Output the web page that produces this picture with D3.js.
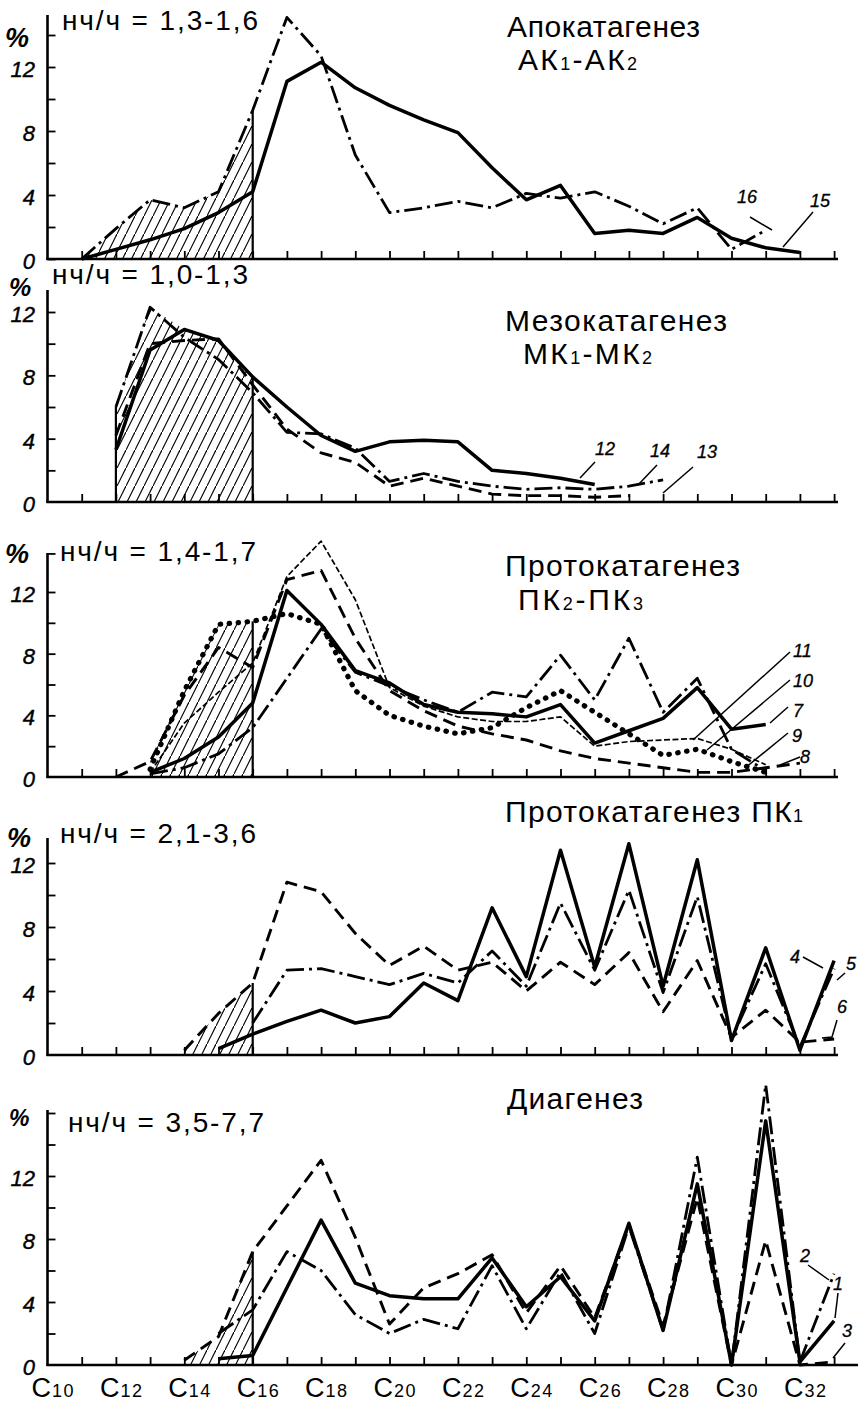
<!DOCTYPE html>
<html><head><meta charset="utf-8">
<script src="https://cdn.jsdelivr.net/npm/d3@7/dist/d3.min.js"></script>
<style>body{margin:0;background:#fff}svg{display:block}</style>
</head><body>
<svg id="c" width="858" height="1402"></svg>
<script>
// ---------------- DATA (carbon numbers C10..C33) ----------------
const carbons = d3.range(10, 34);
const N = null;
const xTickLabels = [10,12,14,16,18,20,22,24,26,28,30,32];
const yTickLabels = [0,4,8,12];

// Panel 1: Апокатагенез АК1-АК2
const p1_15 = [N,0.0,0.6,1.2,1.9,2.9,4.2,11.1,12.3,10.7,9.6,8.7,7.9,5.7,3.7,4.6,1.6,1.8,1.6,2.6,1.3,0.7,0.4,N];
const p1_16 = [N,0.0,1.9,3.7,3.2,4.2,9.3,15.1,12.7,6.5,2.9,3.2,3.6,3.2,4.1,3.8,4.2,3.3,2.2,3.2,0.6,1.8,N,N];

// Panel 2: Мезокатагенез МК1-МК2
const p2_12 = [N,N,3.3,9.6,10.9,10.2,7.9,6.0,4.2,3.2,3.8,3.9,3.8,2.0,1.8,1.5,1.1,N,N,N,N,N,N,N];
const p2_13 = [N,N,4.2,10.0,10.2,10.3,7.4,4.6,3.1,2.5,1.0,1.5,1.0,0.5,0.4,0.4,0.3,0.4,N,N,N,N,N,N];
const p2_14 = [N,N,6.0,12.3,10.4,9.0,6.9,4.4,4.3,3.4,1.3,1.8,1.3,1.0,0.8,0.9,0.8,1.0,1.4,N,N,N,N,N];

// Panel 3: Протокатагенез ПК2-ПК3
const p3_7  = [N,N,N,0.3,1.2,2.6,4.8,12.1,9.9,6.9,6.1,4.7,4.2,4.1,3.9,4.7,2.2,3.0,3.8,5.8,3.1,3.4,N,N];
const p3_8  = [N,N,0.0,1.0,5.3,8.4,7.1,12.8,13.4,9.0,5.6,4.3,3.3,2.8,2.4,1.7,1.2,0.9,0.6,0.3,0.3,0.6,0.9,N];
const p3_9  = [N,N,N,0.2,0.6,1.5,3.2,6.4,9.6,6.8,5.9,5.0,4.2,5.5,5.2,7.9,5.0,9.0,4.2,6.4,1.8,0.4,N,N];
const p3_10 = [N,N,N,0.5,5.6,9.9,10.1,10.6,9.9,5.6,4.0,3.3,2.8,3.2,4.5,5.6,4.2,2.8,1.4,1.8,1.0,0.3,N,N];
const p3_11 = [N,N,N,0.3,3.5,5.5,7.4,13.0,15.3,11.5,5.8,4.6,3.9,3.6,3.6,3.9,2.0,2.3,2.4,2.5,1.8,0.8,N,N];

// Panel 4: Протокатагенез ПК1
const p4_4 = [N,N,N,N,N,0.4,1.3,2.1,2.8,2.0,2.4,4.5,3.4,9.2,4.9,12.8,5.5,13.2,4.3,12.2,0.9,6.7,0.3,5.9];
const p4_5 = [N,N,N,N,N,N,2.0,5.3,5.4,4.9,4.4,5.1,4.5,6.5,4.3,9.5,5.3,10.3,3.9,9.9,1.0,5.7,0.5,5.4];
const p4_6 = [N,N,N,N,0.3,2.6,4.5,10.8,10.2,7.6,5.6,6.8,5.3,5.8,4.0,5.8,4.4,6.4,2.7,5.9,1.1,2.8,0.8,1.0];

// Panel 5: Диагенез
const p5_1 = [N,N,N,N,N,0.4,0.6,4.9,9.2,5.2,4.4,4.2,4.2,6.8,3.7,5.6,2.8,9.0,2.2,11.5,0.0,15.5,0.2,2.8];
const p5_2 = [N,N,N,N,N,2.0,3.5,7.2,6.0,3.2,2.0,2.9,2.3,6.3,2.3,5.9,2.0,8.8,2.2,13.2,0.0,17.8,0.2,5.8];
const p5_3 = [N,N,N,N,0.3,1.8,7.2,10.1,13.0,8.1,2.6,4.9,5.8,7.0,3.3,6.3,3.0,8.9,2.5,10.6,0.0,7.9,0.0,0.2];

// ---------------- STYLES & LAYOUT ----------------
const FONT = "'Liberation Sans', Arial, sans-serif";
const STY = {
  solid:   {w:3.5, dash:null},
  dashdot: {w:2.8, dash:"18,5,3,5"},
  dashed:  {w:2.9, dash:"13,7"},
  dotted:  {w:5.2, dash:"0.5,8.5", cap:"round"},
  wavy:    {w:1.7, dash:"6,2.5"}
};

const panels = [
  {r:[259,67], top:15, xEnd:838, yt:[0,2,4,6,8,10,12,14],
   series:[[p1_16,'dashdot'],[p1_15,'solid']], hatch:{from:11,to:16,src:[p1_16]}},
  {r:[502,312], top:290, xEnd:838, yt:[2,4,6,8,10,12],
   series:[[p2_13,'dashed'],[p2_14,'dashdot'],[p2_12,'solid']], hatch:{from:12,to:16,src:[p2_12,p2_13,p2_14],left:true}},
  {r:[777,592], top:553, xEnd:838, yt:[2,4,6,8,10,12,14.5],
   series:[[p3_8,'dashed'],[p3_9,'dashdot'],[p3_10,'dotted'],[p3_11,'wavy'],[p3_7,'solid']], hatch:{from:13,to:16,src:[p3_7,p3_8,p3_9,p3_10,p3_11]}},
  {r:[1055,863], top:838, xEnd:838, yt:[2,4,6,8,10,12],
   series:[[p4_6,'dashed'],[p4_5,'dashdot'],[p4_4,'solid']], hatch:{from:14,to:16,src:[p4_6]}},
  {r:[1365,1176], top:1110, xEnd:858, yt:[2,4,6,8,10,12,14,16],
   series:[[p5_3,'dashed'],[p5_2,'dashdot'],[p5_1,'solid']], hatch:{from:14,to:16,src:[p5_3]}}
];

const svg = d3.select('#c');
svg.append('rect').attr('width',858).attr('height',1402).attr('fill','#fff');
const defs = svg.append('defs');
const pat = defs.append('pattern').attr('id','hatch').attr('patternUnits','userSpaceOnUse')
  .attr('width',9).attr('height',18);
pat.append('line').attr('x1',-0.5).attr('y1',19).attr('x2',9.5).attr('y2',-1)
  .attr('stroke','#000').attr('stroke-width',1.2);

const x = d3.scaleLinear().domain([10,33]).range([47.5,834.1]);

function fit(t, w){
  const s = t.text(); const n = s.length;
  const L = t.node().getComputedTextLength();
  if(n>1) t.attr('letter-spacing', (w-L)/(n-1));
}

panels.forEach(p=>{
  const y = d3.scaleLinear().domain([0,12]).range(p.r);
  const g = svg.append('g');
  // hatched region
  const hd = carbons.filter(c=>c>=p.hatch.from && c<=p.hatch.to).map(c=>{
    const i = carbons.indexOf(c);
    const vals = p.hatch.src.map(s=>s[i]).filter(v=>v!=null);
    return {c, v: vals.length? d3.max(vals) : 0};
  });
  g.append('path').datum(hd)
    .attr('d', d3.area().x(d=>x(d.c)).y0(y(0)).y1(d=>y(d.v)))
    .attr('fill','url(#hatch)');
  const last = hd[hd.length-1];
  g.append('line').attr('x1',x(last.c)).attr('x2',x(last.c)).attr('y1',y(0)).attr('y2',y(last.v))
    .attr('stroke','#000').attr('stroke-width',2.2);
  if(p.hatch.left){
    const f = hd[0];
    g.append('line').attr('x1',x(f.c)).attr('x2',x(f.c)).attr('y1',y(0)).attr('y2',y(f.v))
      .attr('stroke','#000').attr('stroke-width',2.2);
  }
  // axes
  const ya = g.append('g').attr('transform',`translate(${x(10)},0)`)
    .call(d3.axisRight(y).tickValues(p.yt).tickSize(8).tickFormat(''));
  ya.select('.domain').remove();
  ya.selectAll('line').attr('stroke','#000').attr('stroke-width',1.8);
  g.append('line').attr('x1',x(10)).attr('x2',x(10)).attr('y1',y(0)+1).attr('y2',p.top)
    .attr('stroke','#000').attr('stroke-width',2.6);
  const xa = g.append('g').attr('transform',`translate(0,${y(0)})`)
    .call(d3.axisTop(x).tickValues(d3.range(11,34)).tickSize(8).tickSizeOuter(0).tickFormat(''));
  xa.select('.domain').remove();
  xa.selectAll('line').attr('stroke','#000').attr('stroke-width',1.8);
  g.append('line').attr('x1',x(10)-1).attr('x2',p.xEnd).attr('y1',y(0)).attr('y2',y(0))
    .attr('stroke','#000').attr('stroke-width',2.6);
  // y tick labels
  g.selectAll('text.yl').data(yTickLabels).join('text')
    .attr('x',35).attr('y',d=>y(d)+10).attr('text-anchor','end')
    .attr('font-family',FONT).attr('font-style','italic').attr('font-size',22)
    .attr('stroke','#000').attr('stroke-width',0.4)
    .text(d=>d);
  // series
  p.series.forEach(([vals,st])=>{
    const s = STY[st];
    const data = carbons.map((c,i)=>({c, v: vals[i]}));
    const line = d3.line().defined(d=>d.v!=null).x(d=>x(d.c)).y(d=>y(d.v));
    g.append('path').datum(data).attr('d',line)
      .attr('fill','none').attr('stroke','#000').attr('stroke-width',s.w)
      .attr('stroke-dasharray',s.dash).attr('stroke-linecap',s.cap||'butt')
      .attr('stroke-linejoin','round');
  });
});

// bottom x-axis labels
const yb = 1397;
xTickLabels.forEach(c=>{
  const t = svg.append('text').attr('x', x(c)-16).attr('y', yb)
    .attr('font-family',FONT).attr('font-size',27);
  t.append('tspan').text('C');
  t.append('tspan').attr('font-size',18).attr('letter-spacing',1.5).attr('dx',1).text(c);
});

// titles
function title(xp, ybase, parts, w){
  const t = svg.append('text').attr('x',xp).attr('y',ybase).attr('font-family',FONT).attr('font-size',30);
  parts.forEach(pp=>t.append('tspan').attr('font-size', pp[1]?18:30).text(pp[0]));
  fit(t, w);
}
title(507, 37, [['Апокатагенез']], 193);
title(518, 70, [['АК'],['1',1],['-АК'],['2',1]], 119);
title(505, 331, [['Мезокатагенез']], 222);
title(523, 364, [['МК'],['1',1],['-МК'],['2',1]], 129);
title(505, 576, [['Протокатагенез']], 235);
title(518, 610, [['ПК'],['2',1],['-ПК'],['3',1]], 125);
title(505, 822, [['Протокатагенез ПК'],['1',1]], 298);
title(507, 1109, [['Диагенез']], 136);

// нч/ч labels
const ratios = [['нч/ч = 1,3-1,6',62,30],['нч/ч = 1,0-1,3',52,284],['нч/ч = 1,4-1,7',60,561],
                ['нч/ч = 2,1-3,6',60,843],['нч/ч = 3,5-7,7',68,1132]];
ratios.forEach(([s,xp,ybase])=>{
  const t = svg.append('text').attr('x',xp).attr('y',ybase).attr('font-family',FONT).attr('font-size',28).text(s);
  fit(t,196);
});

// % signs
[[5,47,27],[9,296,25],[5,563,27],[7,847,27],[9,1126,23]].forEach(([xp,ybase,fs])=>{
  svg.append('text').attr('x',xp).attr('y',ybase).attr('font-family',FONT)
    .attr('font-style','italic').attr('font-weight','bold').attr('font-size',fs).text('%');
});

// curve number labels with pointers
const notes = [
  ['16',737,203,[[750,217],[772,230]]],
  ['15',810,207,[[813,212],[783,247]]],
  ['12',595,455,[[595,462],[580,478]]],
  ['14',650,457,[[657,465],[638,485]]],
  ['13',697,458,[[693,467],[663,493]]],
  ['11',793,657,[[790,652],[693,740]]],
  ['10',793,687,[[790,680],[707,750]]],
  ['7',793,717,[[788,707],[770,723]]],
  ['9',792,742,[[788,733],[745,768]]],
  ['8',800,763,[[800,757],[780,765]]],
  ['4',790,963,[[803,957],[823,968]]],
  ['5',846,970,[[845,973],[837,980]]],
  ['6',837,1013,[[837,1020],[832,1037],[822,1038]]],
  ['2',800,1262,[[808,1265],[829,1280]]],
  ['1',833,1290,[[838,1293],[835,1318]]],
  ['3',842,1337,[[845,1343],[833,1358]]]
];
notes.forEach(([s,xp,ybase,pts])=>{
  svg.append('text').attr('x',xp).attr('y',ybase).attr('font-family',FONT)
    .attr('font-style','italic').attr('font-size',18).attr('stroke','#000').attr('stroke-width',0.3).text(s);
  svg.append('path').attr('d',d3.line()(pts)).attr('fill','none').attr('stroke','#000').attr('stroke-width',1.5);
});
</script>
</body></html>
